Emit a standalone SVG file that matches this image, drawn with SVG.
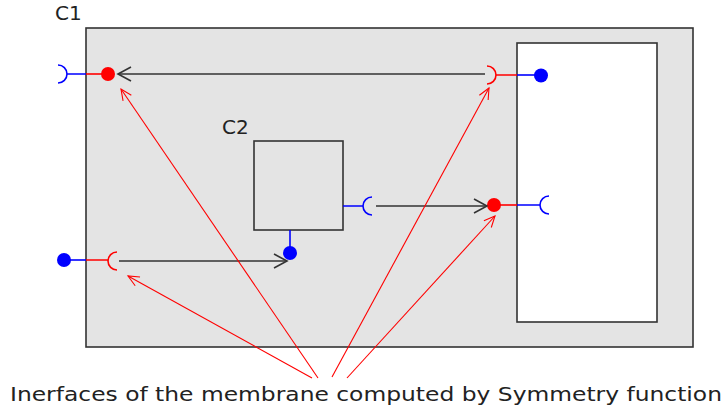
<svg xmlns="http://www.w3.org/2000/svg" width="728" height="419" viewBox="0 0 728 419">
<defs>
<style>
.box{fill:#e4e4e4;stroke:#333;stroke-width:1.6}
.inner{fill:#fff;stroke:#333;stroke-width:1.6}
.blue{stroke:#0000ff;stroke-width:1.6;fill:none}
.red{stroke:#ff0000;stroke-width:1.6;fill:none}
.bdot{fill:#0000ff}
.rdot{fill:#ff0000}
.flow{stroke:#333;stroke-width:1.6;fill:none}
.ptr{stroke:#ff0000;stroke-width:1.1;fill:none}
.lbl{font-family:"DejaVu Sans",sans-serif;font-size:20px;fill:#222}
</style>
<marker id="ah" markerWidth="16" markerHeight="16" refX="14" refY="8" orient="auto" markerUnits="userSpaceOnUse">
<path d="M1,1 L14,8 L1,15" fill="none" stroke="#333" stroke-width="1.6"/>
</marker>
<marker id="rh" markerWidth="14" markerHeight="14" refX="12" refY="7" orient="auto" markerUnits="userSpaceOnUse">
<path d="M1,2 L12,7 L1,12" fill="none" stroke="#ff0000" stroke-width="1.1"/>
</marker>
</defs>
<g id="C1">
<rect class="box" x="86" y="28" width="607" height="319"/>
<text class="lbl" x="55" y="20">C1</text>
</g>
<g id="inner">
<rect class="inner" x="517" y="43" width="140" height="279"/>
</g>
<g id="C2">
<rect class="box" x="254" y="141" width="89" height="89"/>
<text class="lbl" x="222" y="134">C2</text>
</g>
<g id="port-top-left">
<path class="blue" d="M58,65 A9,9 0 0 1 58,83 M67,74 L86,74"/>
<path class="red" d="M86,74 L108,74"/>
<circle class="rdot" cx="108" cy="74" r="7"/>
</g>
<g id="port-top-right">
<path class="red" d="M487,66 A9,9 0 0 1 487,84 M496,75 L517,75"/>
<path class="blue" d="M517,75 L541,75"/>
<circle class="bdot" cx="541" cy="75.5" r="7"/>
</g>
<g id="port-c2-right">
<path class="blue" d="M343,206 L363,206 M372,197 A9,9 0 0 0 372,215"/>
</g>
<g id="port-mid-right">
<circle class="rdot" cx="494" cy="205" r="7"/>
<path class="red" d="M494,205 L517,205"/>
<path class="blue" d="M517,205 L540,205 M549,196 A9,9 0 0 0 549,214"/>
</g>
<g id="port-bottom-left">
<circle class="bdot" cx="64" cy="260" r="7"/>
<path class="blue" d="M64,260 L86,260"/>
<path class="red" d="M86,260 L108,260 M117,252 A9,9 0 0 0 117,270"/>
</g>
<g id="port-c2-bottom">
<path class="blue" d="M290,230 L290,253"/>
<circle class="bdot" cx="290" cy="253" r="7"/>
</g>
<g id="connectors">
<path class="flow" d="M485,74 L118,74" marker-end="url(#ah)"/>
<path class="flow" d="M376,206 L487,206" marker-end="url(#ah)"/>
<path class="flow" d="M119,261 L287,261" marker-end="url(#ah)"/>
<path class="ptr" d="M318,378 L121,89" marker-end="url(#rh)"/>
<path class="ptr" d="M312,378 L128,276" marker-end="url(#rh)"/>
<path class="ptr" d="M332,377 L489,88" marker-end="url(#rh)"/>
<path class="ptr" d="M347,378 L495,216" marker-end="url(#rh)"/>
</g>
<g id="caption">
<text class="lbl" x="10" y="401" textLength="712" lengthAdjust="spacingAndGlyphs">Inerfaces of the membrane computed by Symmetry function</text>
</g>
</svg>
